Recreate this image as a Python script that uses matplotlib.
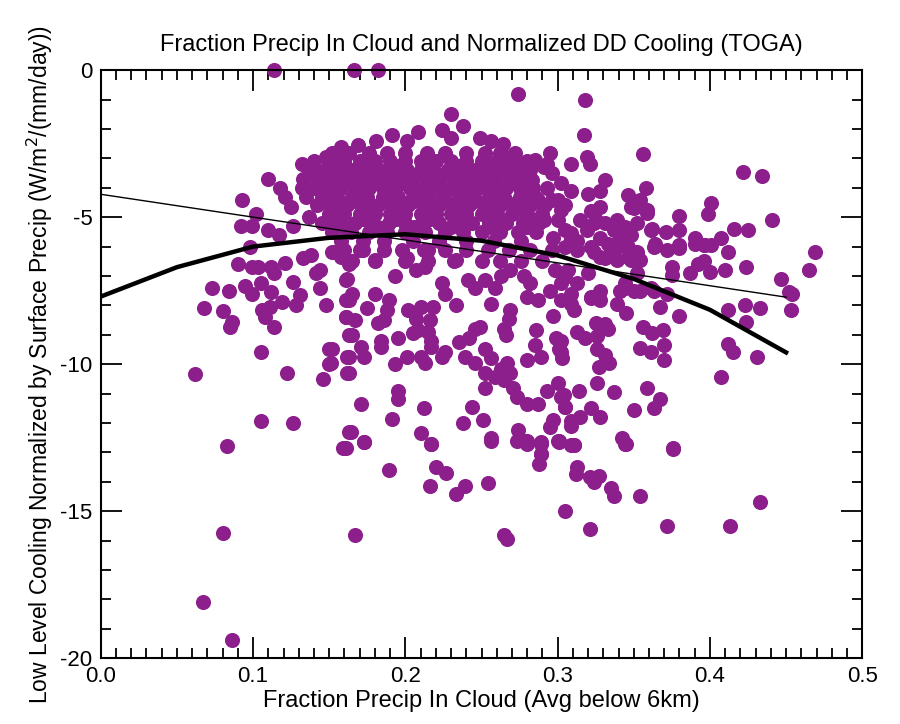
import numpy as np
import matplotlib.pyplot as plt
from matplotlib.ticker import MultipleLocator

plt.rcParams['font.family'] = ['Liberation Sans', 'DejaVu Sans']
plt.rcParams['axes.unicode_minus'] = False

# isolated points, upper part of the cloud
pts_upper = [(0.114, 0), (0.166, 0), (0.182, 0), (0.274, -0.8), (0.318, -1.0),
             (0.230, -1.5), (0.238, -1.9), (0.224, -2.05), (0.230, -2.3), (0.208, -2.1),
             (0.191, -2.2), (0.181, -2.4), (0.169, -2.55), (0.158, -2.6), (0.148, -2.95),
             (0.158, -3.0), (0.132, -3.2), (0.201, -2.4), (0.249, -2.3), (0.256, -2.4),
             (0.264, -2.5), (0.266, -2.95), (0.285, -3.05), (0.291, -3.3), (0.317, -2.2),
             (0.319, -2.95), (0.321, -3.2), (0.356, -2.85), (0.295, -2.8), (0.293, -3.2),
             (0.309, -3.2), (0.156, -3.0), (0.110, -3.7), (0.118, -4.0), (0.121, -4.3),
             (0.132, -4.0), (0.093, -4.4), (0.102, -4.9), (0.092, -5.3), (0.099, -5.3),
             (0.110, -5.45), (0.117, -5.6), (0.125, -4.65), (0.126, -5.3), (0.137, -5.0)]

# dense core, row by row
core_y = [-2.8, -3.1, -3.4, -3.7, -4.0, -4.3, -4.6, -4.9, -5.2, -5.5, -5.8, -6.1, -6.5]
core_x = [
    [0.152, 0.163, 0.176, 0.188, 0.200, 0.214, 0.226, 0.240, 0.252, 0.262, 0.272],
    [0.140, 0.150, 0.160, 0.170, 0.180, 0.190, 0.200, 0.210, 0.220, 0.230, 0.240, 0.250, 0.260, 0.270, 0.280],
    [0.138, 0.147, 0.156, 0.165, 0.174, 0.183, 0.192, 0.201, 0.210, 0.219, 0.228, 0.237, 0.246, 0.255, 0.264, 0.273, 0.282],
    [0.133, 0.142, 0.151, 0.160, 0.169, 0.178, 0.187, 0.196, 0.205, 0.214, 0.223, 0.232, 0.241, 0.250, 0.259, 0.268, 0.277],
    [0.140, 0.149, 0.158, 0.167, 0.176, 0.185, 0.194, 0.203, 0.212, 0.221, 0.230, 0.239, 0.248, 0.257, 0.266, 0.275, 0.284, 0.293],
    [0.135, 0.145, 0.155, 0.165, 0.175, 0.185, 0.195, 0.205, 0.215, 0.225, 0.235, 0.245, 0.255, 0.265, 0.275, 0.285],
    [0.142, 0.152, 0.162, 0.172, 0.182, 0.192, 0.202, 0.212, 0.222, 0.232, 0.242, 0.252, 0.262, 0.272, 0.282, 0.292],
    [0.150, 0.160, 0.170, 0.180, 0.190, 0.200, 0.210, 0.220, 0.230, 0.240, 0.250, 0.260, 0.270, 0.280, 0.290],
    [0.145, 0.156, 0.167, 0.178, 0.189, 0.200, 0.211, 0.222, 0.233, 0.244, 0.255, 0.266, 0.277, 0.288],
    [0.152, 0.164, 0.176, 0.188, 0.200, 0.213, 0.226, 0.238, 0.250, 0.262, 0.274, 0.286],
    [0.158, 0.172, 0.186, 0.205, 0.222, 0.240, 0.258, 0.276],
    [0.160, 0.172, 0.186, 0.198, 0.212, 0.226, 0.240, 0.254, 0.268, 0.282, 0.296],
    [0.165, 0.180, 0.200, 0.215, 0.232, 0.250, 0.262, 0.276, 0.290],
]

# extra points filling gaps in the core
fill_y = [-3.25, -3.55, -3.85, -4.15, -4.45, -4.75, -5.05, -5.35]
fill_x = [
    [0.155, 0.175, 0.195, 0.215, 0.235, 0.255, 0.275],
    [0.152, 0.170, 0.188, 0.206, 0.224, 0.242, 0.260, 0.278],
    [0.146, 0.164, 0.182, 0.200, 0.218, 0.236, 0.254, 0.272],
    [0.153, 0.172, 0.190, 0.208, 0.226, 0.244, 0.262, 0.280],
    [0.147, 0.166, 0.186, 0.206, 0.226, 0.246, 0.266, 0.286],
    [0.157, 0.177, 0.197, 0.217, 0.237, 0.257, 0.277],
    [0.152, 0.172, 0.194, 0.216, 0.238, 0.260, 0.282],
    [0.160, 0.182, 0.206, 0.230, 0.256, 0.280],
]

# right side of the cloud
pts_right = [(0.422, -3.45), (0.434, -3.6), (0.331, -3.75), (0.302, -3.85), (0.309, -4.1),
             (0.358, -4.0), (0.346, -4.25), (0.320, -4.2), (0.328, -4.1), (0.354, -4.4),
             (0.401, -4.5), (0.399, -4.9), (0.380, -4.95), (0.441, -5.1), (0.359, -4.85),
             (0.348, -4.65), (0.416, -5.4), (0.425, -5.45), (0.407, -5.7), (0.390, -5.7),
             (0.380, -5.45), (0.371, -5.5), (0.362, -5.4), (0.364, -5.9), (0.372, -6.1),
             (0.380, -5.95), (0.397, -5.95), (0.401, -5.95), (0.412, -6.2), (0.469, -6.2),
             (0.337, -5.45), (0.344, -5.7), (0.333, -5.9), (0.324, -6.2), (0.339, -6.0),
             (0.315, -5.1), (0.324, -5.2), (0.309, -5.55), (0.302, -4.75), (0.289, -5.0),
             (0.296, -4.4), (0.287, -4.4), (0.283, -3.75), (0.296, -3.5), (0.352, -4.5),
             (0.359, -4.75), (0.350, -4.7), (0.300, -4.4), (0.305, -4.6), (0.291, -4.6),
             (0.322, -4.8), (0.328, -4.65), (0.325, -5.1), (0.331, -5.2), (0.339, -5.1),
             (0.344, -5.35), (0.352, -5.2), (0.348, -5.6), (0.341, -5.65), (0.361, -5.45),
             (0.300, -5.1), (0.305, -5.45), (0.309, -5.7), (0.313, -5.8), (0.297, -5.7),
             (0.291, -5.1), (0.319, -5.45), (0.328, -5.7), (0.322, -6.0), (0.335, -6.0),
             (0.346, -6.35), (0.352, -6.2), (0.354, -6.45), (0.331, -6.4)]

# band just under the curves
pts_band = [(0.305, -6.0), (0.313, -6.1), (0.328, -6.35), (0.305, -7.05), (0.313, -7.25),
            (0.309, -7.6), (0.302, -7.8), (0.322, -7.7), (0.328, -7.5), (0.320, -6.9),
            (0.339, -6.45), (0.348, -6.45), (0.352, -6.9), (0.344, -7.25), (0.341, -7.5),
            (0.354, -7.5), (0.361, -7.4), (0.372, -7.6), (0.363, -6.0), (0.380, -6.05),
            (0.390, -5.9), (0.396, -5.95), (0.346, -6.0), (0.337, -5.95),
            (0.424, -6.7), (0.410, -6.8), (0.400, -6.85), (0.387, -6.9), (0.392, -6.6),
            (0.396, -6.5), (0.375, -6.7), (0.375, -6.95), (0.465, -6.8), (0.447, -7.1),
            (0.452, -7.55), (0.454, -7.6), (0.453, -8.15), (0.433, -8.1), (0.423, -8.0),
            (0.412, -8.15), (0.424, -8.55), (0.412, -9.3), (0.415, -9.6), (0.431, -9.75),
            (0.407, -10.45),
            (0.154, -6.2), (0.163, -6.6), (0.162, -7.1), (0.170, -6.1), (0.180, -6.45),
            (0.193, -7.0), (0.201, -6.4), (0.207, -6.8), (0.213, -6.7), (0.215, -6.1),
            (0.224, -7.25), (0.226, -7.6), (0.233, -6.45), (0.241, -7.15), (0.246, -7.4),
            (0.252, -7.15), (0.259, -7.4), (0.263, -7.0), (0.269, -6.8), (0.278, -7.0),
            (0.282, -7.25), (0.280, -7.7), (0.287, -7.8), (0.295, -7.5), (0.302, -7.25),
            (0.307, -6.8), (0.298, -6.8)]

# left side, below the curves
pts_left = [(0.098, -6.0), (0.090, -6.6), (0.099, -6.7), (0.103, -6.7), (0.112, -6.7),
            (0.114, -6.9), (0.121, -6.55), (0.133, -6.4), (0.138, -6.3), (0.141, -6.9),
            (0.144, -6.8), (0.152, -6.2), (0.158, -6.35), (0.073, -7.4), (0.084, -7.5),
            (0.095, -7.35), (0.099, -7.6), (0.105, -7.25), (0.112, -7.55), (0.126, -7.2),
            (0.131, -7.65), (0.128, -8.0), (0.119, -7.9), (0.144, -7.4), (0.148, -8.0),
            (0.068, -8.1), (0.080, -8.2), (0.086, -8.55), (0.085, -8.75), (0.106, -8.15),
            (0.111, -8.05), (0.108, -8.4), (0.114, -8.75), (0.161, -7.15), (0.161, -7.8),
            (0.161, -8.4), (0.163, -9.0), (0.105, -9.6), (0.150, -9.5), (0.150, -10.0),
            (0.162, -9.75), (0.162, -10.3), (0.062, -10.35), (0.122, -10.3), (0.146, -10.5),
            (0.105, -11.95), (0.126, -12.0), (0.083, -12.8), (0.161, -12.85), (0.163, -12.3)]

# middle, below the curves
pts_mid = [(0.165, -7.6), (0.163, -7.8), (0.175, -8.1), (0.180, -7.6), (0.189, -7.8),
           (0.188, -8.15), (0.186, -8.5), (0.182, -8.6), (0.161, -8.4), (0.167, -8.5),
           (0.202, -8.15), (0.207, -8.45), (0.210, -8.05), (0.218, -8.05), (0.216, -8.5),
           (0.208, -8.85), (0.215, -8.9), (0.205, -8.95), (0.217, -9.2), (0.217, -9.4),
           (0.233, -8.0), (0.256, -7.95), (0.269, -8.15), (0.268, -8.45), (0.265, -8.8),
           (0.266, -9.0), (0.246, -8.8), (0.249, -8.75), (0.242, -9.1), (0.235, -9.25),
           (0.286, -8.85), (0.297, -8.35), (0.299, -9.1), (0.285, -9.35), (0.301, -9.5),
           (0.289, -9.75), (0.280, -9.85), (0.303, -9.8), (0.165, -9.0), (0.152, -9.5),
           (0.151, -9.95), (0.163, -9.75), (0.171, -9.4), (0.173, -9.75), (0.184, -9.2),
           (0.184, -9.4), (0.195, -9.1), (0.163, -10.3), (0.193, -10.0), (0.201, -9.75),
           (0.210, -9.75), (0.213, -9.95), (0.224, -9.75), (0.226, -9.6), (0.239, -9.75),
           (0.246, -9.95), (0.252, -9.5), (0.256, -9.8), (0.252, -10.3), (0.259, -10.45),
           (0.263, -10.15), (0.267, -9.95), (0.269, -10.3), (0.265, -10.55), (0.271, -10.8),
           (0.273, -11.1), (0.252, -10.8), (0.195, -10.9), (0.195, -11.2), (0.171, -11.35),
           (0.212, -11.5), (0.191, -11.85), (0.244, -11.45), (0.238, -12.0), (0.251, -11.9),
           (0.164, -12.3), (0.173, -12.65), (0.159, -12.85), (0.210, -12.35), (0.217, -12.7),
           (0.256, -12.5), (0.274, -12.25), (0.280, -12.6), (0.289, -12.65), (0.289, -13.05),
           (0.280, -11.35), (0.287, -11.35), (0.293, -10.9), (0.300, -10.65), (0.302, -11.1),
           (0.305, -11.45), (0.297, -11.9), (0.295, -12.15), (0.309, -11.95), (0.300, -12.6),
           (0.309, -12.75)]

# right, below the curves
pts_lowright = [(0.380, -8.35), (0.367, -8.05), (0.345, -8.25), (0.356, -8.75), (0.362, -8.95),
                (0.369, -8.85), (0.370, -9.35), (0.354, -9.45), (0.361, -9.6), (0.370, -9.85),
                (0.333, -8.8), (0.326, -9.05), (0.318, -9.1), (0.313, -8.9), (0.325, -8.6),
                (0.331, -8.65), (0.326, -9.5), (0.331, -9.7), (0.334, -9.95), (0.327, -10.1),
                (0.322, -7.75), (0.328, -7.8), (0.311, -8.15), (0.309, -7.95), (0.302, -9.2),
                (0.302, -9.6), (0.326, -10.65), (0.314, -10.9), (0.337, -10.95), (0.359, -10.8),
                (0.367, -11.2), (0.363, -11.5), (0.350, -11.55), (0.328, -11.8), (0.322, -11.5),
                (0.315, -11.8), (0.309, -12.1), (0.304, -11.05), (0.305, -11.45), (0.301, -12.6),
                (0.311, -12.75), (0.342, -12.5), (0.345, -12.7), (0.376, -12.85), (0.339, -7.95),
                (0.350, -7.5), (0.344, -7.4), (0.363, -7.5)]

# bottom outliers
pts_bottom = [(0.173, -12.65), (0.217, -12.7), (0.189, -13.6), (0.220, -13.5), (0.227, -13.7),
              (0.216, -14.15), (0.233, -14.4), (0.239, -14.15), (0.254, -14.05), (0.256, -12.6),
              (0.080, -15.75), (0.167, -15.8), (0.067, -18.1), (0.086, -19.4),
              (0.265, -15.8), (0.267, -15.95), (0.305, -15.0), (0.321, -15.6), (0.372, -15.5),
              (0.413, -15.5), (0.433, -14.7), (0.354, -14.5), (0.335, -14.2), (0.337, -14.5),
              (0.324, -14.0), (0.327, -13.8), (0.321, -13.85), (0.313, -13.5), (0.312, -13.75),
              (0.288, -13.4), (0.289, -13.05), (0.289, -12.7), (0.280, -12.7), (0.278, -12.6),
              (0.301, -12.65), (0.311, -12.75), (0.344, -12.7), (0.376, -12.9), (0.273, -12.6)]

# fits
lin_x = [0.0, 0.45]
lin_y = [-4.22, -7.72]
fit_x = [0.0, 0.05, 0.10, 0.15, 0.20, 0.25, 0.30, 0.35, 0.40, 0.45]
fit_y = [-7.7, -6.7, -6.0, -5.7, -5.58, -5.8, -6.3, -7.1, -8.15, -9.6]

core = [(x, y) for y, xs in zip(core_y, core_x) for x in xs]
fill = [(x, y) for y, xs in zip(fill_y, fill_x) for x in xs]
pts = np.array(pts_upper + core + fill + pts_right + pts_band + pts_left + pts_mid
               + pts_lowright + pts_bottom)

fig = plt.figure(figsize=(9, 7.24), dpi=100)
ax = fig.add_axes([0.112, 0.091, 0.846, 0.812])
ax.scatter(pts[:, 0], pts[:, 1], s=118, color='#8c1f8c', linewidths=0, zorder=2, clip_on=False)
ax.plot(lin_x, lin_y, color='black', lw=1.0, zorder=3)
ax.plot(fit_x, fit_y, color='black', lw=3.2, zorder=3)

ax.set_xlim(0, 0.5)
ax.set_ylim(-20, 0)
ax.set_xticks([0, 0.1, 0.2, 0.3, 0.4, 0.5])
ax.set_xticklabels(['0.0', '0.1', '0.2', '0.3', '0.4', '0.5'])
ax.xaxis.set_minor_locator(MultipleLocator(0.01))
ax.yaxis.set_major_locator(MultipleLocator(5))
ax.yaxis.set_minor_locator(MultipleLocator(1))
ax.tick_params(which='both', direction='in', top=True, right=True, labelsize=16, width=1.3)
ax.tick_params(which='major', length=15, pad=6)
ax.tick_params(which='minor', length=7)
for sp in ax.spines.values():
    sp.set_linewidth(1.5)

ax.set_title('Fraction Precip In Cloud and Normalized DD Cooling (TOGA)', fontsize=17, pad=14)
ax.set_xlabel('Fraction Precip In Cloud (Avg below 6km)', fontsize=17, labelpad=2)
ax.set_ylabel('Low Level Cooling Normalized by Surface Precip (W/m$^2$/(mm/day))', fontsize=16.5, labelpad=4)

plt.savefig('out.png', dpi=100)
